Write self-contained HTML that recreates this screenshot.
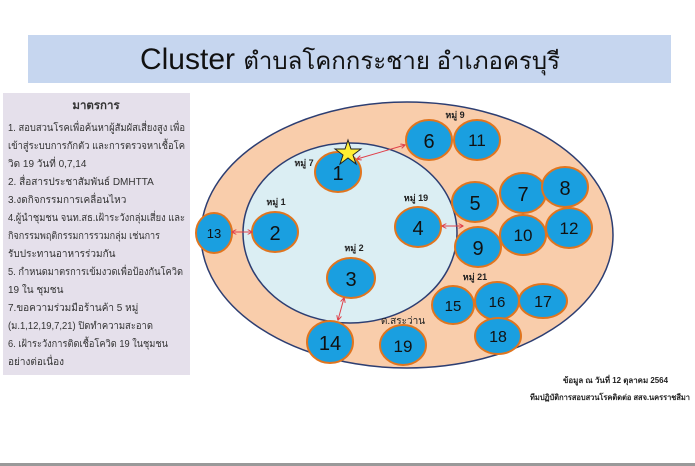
<!DOCTYPE html>
<html><head><meta charset="utf-8"><style>
html,body{margin:0;padding:0;background:#fff;width:695px;height:466px;overflow:hidden;font-family:"Liberation Sans","DejaVu Sans",sans-serif}
</style></head><body>
<svg width="695" height="466" viewBox="0 0 695 466" xmlns="http://www.w3.org/2000/svg" font-family="Liberation Sans, DejaVu Sans, sans-serif">
<defs>
<marker id="a" viewBox="0 0 10 10" refX="9" refY="5" markerWidth="5" markerHeight="5" orient="auto-start-reverse"><path d="M0,0 L10,5 L0,10" fill="none" stroke="#e0404a" stroke-width="2"/></marker>
</defs>
<rect x="28" y="35" width="643" height="48" fill="#c6d6ef"/>
<text x="350" y="69" font-size="30" text-anchor="middle" fill="#111">Cluster <tspan font-size="24">ตำบลโคกกระชาย  อำเภอครบุรี</tspan></text>
<rect x="3" y="93" width="187" height="282" fill="#e5e0eb"/>
<g font-size="10" fill="#333">
<text x="96" y="109" text-anchor="middle" font-weight="bold" font-size="11.5">มาตรการ</text>
<text x="8" y="131" textLength="177" lengthAdjust="spacingAndGlyphs">1. สอบสวนโรคเพื่อค้นหาผู้สัมผัสเสี่ยงสูง เพื่อ</text>
<text x="8" y="149" textLength="177" lengthAdjust="spacingAndGlyphs">เข้าสู่ระบบการกักตัว  และการตรวจหาเชื้อโค</text>
<text x="8" y="167">วิด 19  วันที่ 0,7,14</text>
<text x="8" y="185">2. สื่อสารประชาสัมพันธ์ DMHTTA</text>
<text x="8" y="203">3.งดกิจกรรมการเคลื่อนไหว</text>
<text x="8" y="221" textLength="177" lengthAdjust="spacingAndGlyphs">4.ผู้นำชุมชน จนท.สธ.เฝ้าระวังกลุ่มเสี่ยง และ</text>
<text x="8" y="239" textLength="152" lengthAdjust="spacingAndGlyphs">กิจกรรมพฤติกรรมการรวมกลุ่ม เช่นการ</text>
<text x="8" y="257">รับประทานอาหารร่วมกัน</text>
<text x="8" y="275" textLength="175" lengthAdjust="spacingAndGlyphs">5. กำหนดมาตรการเข้มงวดเพื่อป้องกันโควิด</text>
<text x="8" y="293">19  ใน ชุมชน</text>
<text x="8" y="311">7.ขอความร่วมมือร้านค้า 5 หมู่</text>
<text x="8" y="329" textLength="145" lengthAdjust="spacingAndGlyphs">(ม.1,12,19,7,21) ปิดทำความสะอาด</text>
<text x="8" y="347" textLength="160" lengthAdjust="spacingAndGlyphs">6. เฝ้าระวังการติดเชื้อโควิด 19 ในชุมชน</text>
<text x="8" y="365">อย่างต่อเนื่อง</text>
</g>
<ellipse cx="407" cy="235" rx="206" ry="133" fill="#f9cdab" stroke="#2d3e72" stroke-width="1.5"/>
<ellipse cx="350" cy="233" rx="107" ry="90" fill="#dbeef3" stroke="#2d3e72" stroke-width="1.5"/>
<g fill="#1a9fe0" stroke="#e0751f" stroke-width="2">
<ellipse cx="338" cy="172" rx="23" ry="20"/>
<ellipse cx="275" cy="232" rx="23" ry="20"/>
<ellipse cx="214" cy="233" rx="18" ry="20"/>
<ellipse cx="351" cy="278" rx="24" ry="20"/>
<ellipse cx="418" cy="227" rx="23" ry="20"/>
<ellipse cx="330" cy="342" rx="23" ry="21"/>
<ellipse cx="403" cy="345" rx="23" ry="20"/>
<ellipse cx="429" cy="140" rx="23" ry="20"/>
<ellipse cx="477" cy="140" rx="23" ry="20"/>
<ellipse cx="475" cy="202" rx="23" ry="20"/>
<ellipse cx="523" cy="193" rx="23" ry="20"/>
<ellipse cx="565" cy="187" rx="23" ry="20"/>
<ellipse cx="478" cy="247" rx="23" ry="20"/>
<ellipse cx="523" cy="235" rx="23" ry="20"/>
<ellipse cx="569" cy="228" rx="23" ry="20"/>
<ellipse cx="453" cy="305" rx="21" ry="19"/>
<ellipse cx="497" cy="301" rx="22" ry="19"/>
<ellipse cx="543" cy="301" rx="24" ry="17"/>
<ellipse cx="498" cy="336" rx="23" ry="18"/>
</g>
<g fill="#111" text-anchor="middle" font-size="20">
<text x="338" y="180">1</text><text x="275" y="240">2</text><text x="214" y="238" font-size="13">13</text>
<text x="351" y="286">3</text><text x="418" y="235">4</text><text x="330" y="350">14</text>
<text x="403" y="352" font-size="17">19</text><text x="429" y="148">6</text><text x="477" y="146" font-size="17">11</text>
<text x="475" y="210">5</text><text x="523" y="201">7</text><text x="565" y="195">8</text>
<text x="478" y="255">9</text><text x="523" y="241" font-size="17">10</text><text x="569" y="234" font-size="17">12</text>
<text x="453" y="311" font-size="15">15</text><text x="497" y="307" font-size="15">16</text><text x="543" y="307" font-size="16">17</text>
<text x="498" y="342" font-size="16">18</text>
</g>
<polygon points="348,140 351,149 361,149 353,155 356,164 348,158 340,164 343,155 335,149 345,149" fill="#ffee33" stroke="#222" stroke-width="1"/>
<g stroke="#e0404a" stroke-width="1" fill="none" marker-start="url(#a)" marker-end="url(#a)">
<line x1="357" y1="159" x2="405" y2="145"/>
<line x1="232" y1="232" x2="252" y2="232"/>
<line x1="442" y1="226" x2="463" y2="226"/>
<line x1="344" y1="298" x2="338" y2="320"/>
</g>
<g font-size="9" font-weight="bold" fill="#222" text-anchor="middle">
<text x="455" y="118">หมู่ 9</text><text x="304" y="166">หมู่ 7</text><text x="276" y="205">หมู่ 1</text>
<text x="416" y="201">หมู่ 19</text><text x="354" y="251">หมู่ 2</text><text x="475" y="280">หมู่ 21</text>
<text x="403" y="324" font-weight="normal" font-size="10">ต.สระว่าน</text>
</g>
<g font-size="8" font-weight="bold" fill="#222">
<text x="563" y="383" textLength="105" lengthAdjust="spacingAndGlyphs">ข้อมูล ณ วันที่ 12 ตุลาคม 2564</text>
<text x="530" y="400" textLength="160" lengthAdjust="spacingAndGlyphs">ทีมปฏิบัติการสอบสวนโรคติดต่อ สสจ.นครราชสีมา</text>
</g>
<rect x="0" y="463" width="695" height="3" fill="#999"/>
</svg>
</body></html>
